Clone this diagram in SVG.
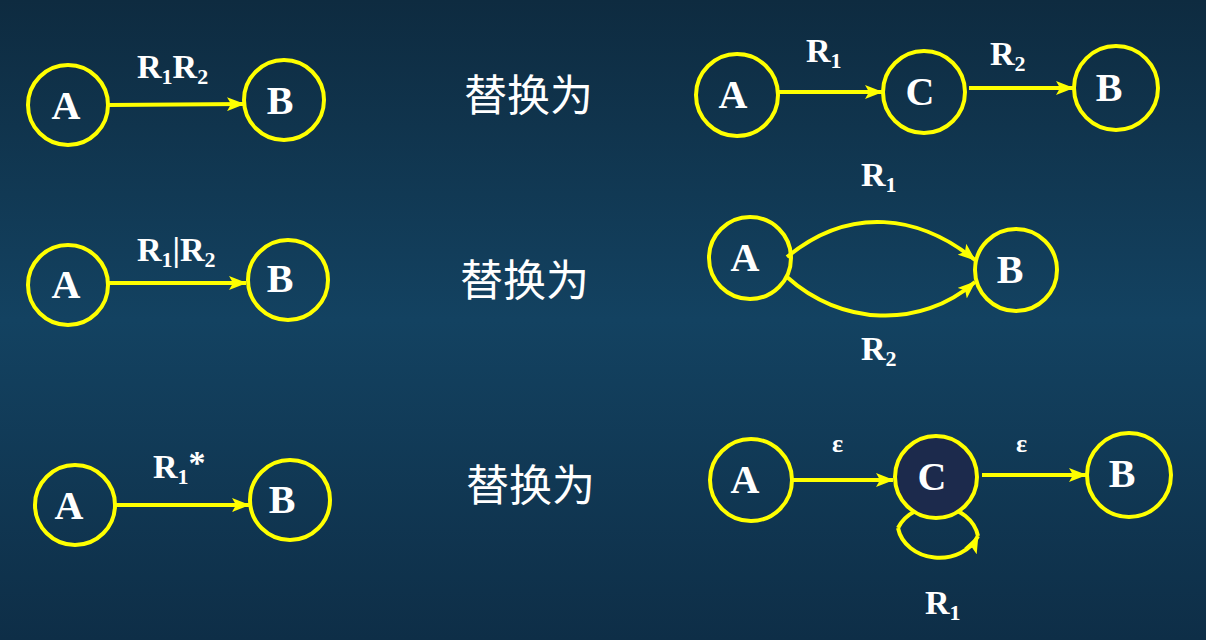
<svg xmlns="http://www.w3.org/2000/svg" width="1206" height="640" viewBox="0 0 1206 640">
<defs>
<linearGradient id="bg" x1="0" y1="0" x2="0" y2="1">
<stop offset="0" stop-color="#0e2b40"/>
<stop offset="0.5" stop-color="#134261"/>
<stop offset="1" stop-color="#0e2e47"/>
</linearGradient>
<marker id="arr" viewBox="0 0 18 14" refX="17" refY="7" markerWidth="18" markerHeight="14" markerUnits="userSpaceOnUse" orient="auto">
<path d="M0,0 L18,7 L0,14 L4,7 Z" fill="#ffff00"/>
</marker>
<style>
.node{fill:none;stroke:#ffff00;stroke-width:4}
.nl{font-family:"Liberation Serif",serif;font-weight:bold;font-size:40px;fill:#ffffff;text-anchor:middle}
.el{font-family:"Liberation Serif",serif;font-weight:bold;font-size:34px;fill:#ffffff}
.sub{font-size:22px}
.eps{font-size:26px}
.edge{fill:none;stroke:#ffff00;stroke-width:4}
.cn{font-family:"Noto Sans CJK SC",sans-serif;font-size:43px;fill:#ffffff}
</style>
</defs>
<rect x="0" y="0" width="1206" height="640" fill="url(#bg)"/>

<g id="connectors">
<line class="edge" x1="109" y1="105" x2="244" y2="104" marker-end="url(#arr)"/>
<line class="edge" x1="778" y1="92" x2="882" y2="92" marker-end="url(#arr)"/>
<line class="edge" x1="969" y1="88" x2="1073" y2="88" marker-end="url(#arr)"/>
<line class="edge" x1="109" y1="283" x2="246" y2="283" marker-end="url(#arr)"/>
<path class="edge" d="M787,257 C850,205 920,215 975,260" marker-end="url(#arr)"/>
<path class="edge" d="M787,277 C840,325 920,330 975,282" marker-end="url(#arr)"/>
<line class="edge" x1="116" y1="505" x2="249" y2="505" marker-end="url(#arr)"/>
<line class="edge" x1="793" y1="480" x2="893" y2="480" marker-end="url(#arr)"/>
<line class="edge" x1="982" y1="475" x2="1086" y2="475" marker-end="url(#arr)"/>
<path class="edge" d="M898,528 A42,36 0 0 0 978,536" marker-end="url(#arr)"/>
<path class="edge" d="M978,536 A42,36 0 0 0 898,528"/>
</g>

<g id="r1-A"><circle class="node" cx="68" cy="105" r="40"/><text class="nl" x="66" y="119">A</text></g>
<g id="r1-B"><circle class="node" cx="284" cy="100" r="40"/><text class="nl" x="280" y="114">B</text></g>
<text class="el" x="137" y="78">R<tspan class="sub" dy="6">1</tspan><tspan dy="-6">R</tspan><tspan class="sub" dy="6">2</tspan></text>
<text class="cn" x="464" y="111">替换为</text>

<g id="r1-A2"><circle class="node" cx="737" cy="95" r="41"/><text class="nl" x="733" y="108">A</text></g>
<g id="r1-C"><circle class="node" cx="924" cy="92" r="41"/><text class="nl" x="920" y="105">C</text></g>
<g id="r1-B2"><circle class="node" cx="1116" cy="88" r="42"/><text class="nl" x="1109" y="101">B</text></g>
<text class="el" x="806" y="62">R<tspan class="sub" dy="6">1</tspan></text>
<text class="el" x="990" y="65">R<tspan class="sub" dy="6">2</tspan></text>

<g id="r2-A"><circle class="node" cx="68" cy="285" r="40"/><text class="nl" x="66" y="298">A</text></g>
<g id="r2-B"><circle class="node" cx="288" cy="280" r="40"/><text class="nl" x="280" y="292">B</text></g>
<text class="el" x="137" y="261">R<tspan class="sub" dy="6">1</tspan><tspan dy="-6">|R</tspan><tspan class="sub" dy="6">2</tspan></text>
<text class="cn" x="460" y="296">替换为</text>

<g id="r2-A2"><circle class="node" cx="750" cy="258" r="41"/><text class="nl" x="745" y="271">A</text></g>
<g id="r2-B2"><circle class="node" cx="1016" cy="270" r="41"/><text class="nl" x="1010" y="283">B</text></g>
<text class="el" x="861" y="186">R<tspan class="sub" dy="6">1</tspan></text>
<text class="el" x="861" y="360">R<tspan class="sub" dy="6">2</tspan></text>

<g id="r3-A"><circle class="node" cx="75" cy="505" r="40"/><text class="nl" x="69" y="519">A</text></g>
<g id="r3-B"><circle class="node" cx="290" cy="500" r="40"/><text class="nl" x="282" y="513">B</text></g>
<text class="el" x="153" y="478">R<tspan class="sub" dy="6">1</tspan><tspan dy="-10">*</tspan></text>
<text class="cn" x="466" y="501">替换为</text>

<g id="r3-A2"><circle class="node" cx="751" cy="480" r="41"/><text class="nl" x="745" y="493">A</text></g>
<g id="r3-C"><circle class="node" cx="936" cy="477" r="41" style="fill:#1c2a4c"/><text class="nl" x="932" y="490">C</text></g>
<g id="r3-B2"><circle class="node" cx="1129" cy="475" r="42"/><text class="nl" x="1122" y="487">B</text></g>
<text class="el eps" x="832" y="452">ε</text>
<text class="el eps" x="1016" y="452">ε</text>
<text class="el" x="925" y="614">R<tspan class="sub" dy="6">1</tspan></text>
</svg>
